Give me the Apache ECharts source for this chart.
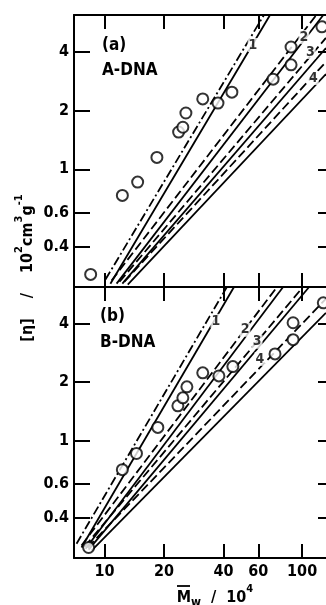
<!DOCTYPE html>
<html>
<head>
<meta charset="utf-8">
<script src="https://cdn.jsdelivr.net/npm/echarts@6/dist/echarts.min.js"></script>
<style>
  html, body { margin: 0; padding: 0; background: #fff; }
  #chart { width: 326px; height: 605px; }
</style>
</head>
<body>
<div id="chart"></div>
<script>
const xTicks = [10, 20, 40, 60, 100]
const yTicks = [0.4, 0.6, 1, 2, 4]

// (a) A-DNA measured points  [Mw/1e4, [eta]]
const aPoints = [
  [8.5, 0.29], [12.3, 0.735], [14.7, 0.86], [18.4, 1.15], [23.7, 1.55], [24.9, 1.64],
  [25.8, 1.94], [31.4, 2.29], [37.5, 2.18], [44.1, 2.48], [71.3, 2.89], [87.9, 4.22],
  [87.9, 3.42], [126, 5.35],
]
// (b) B-DNA measured points
const bPoints = [
  [8.3, 0.283], [12.3, 0.71], [14.5, 0.86], [18.6, 1.17], [23.5, 1.51], [24.9, 1.66],
  [26.1, 1.89], [31.4, 2.23], [37.9, 2.15], [44.6, 2.4], [72.9, 2.79], [90, 4.03],
  [90, 3.3], [128, 5.1],
]

// theory lines, two end points each (dashed = d, solid = s)
const aLine1d = [[10.1, 0.273], [64.1, 6.15]]
const aLine1s = [[10.7, 0.26], [68.8, 6.15]]
const aLine2d = [[10.85, 0.27], [118, 6.15]]
const aLine2s = [[11.5, 0.26], [128, 6.15]]
const aLine3d = [[11.9, 0.266], [132, 4.7]]
const aLine3s = [[12.3, 0.26], [132, 4.17]]
const aLine4d = [[12.6, 0.266], [132, 3.54]]
const aLine4s = [[13.1, 0.257], [132, 3.07]]

const bLine1d = [[7.21, 0.296], [41.6, 6.15]]
const bLine1s = [[7.64, 0.283], [45.2, 6.15]]
const bLine2d = [[7.64, 0.29], [74.6, 6.15]]
const bLine2s = [[8.01, 0.279], [80.1, 6.15]]
const bLine3d = [[7.92, 0.286], [101, 6.15]]
const bLine3s = [[8.3, 0.276], [108.5, 6.15]]
const bLine4d = [[8.2, 0.283], [132, 5.35]]
const bLine4s = [[8.59, 0.273], [132, 4.53]]

// curve numbers
const lineNames = ['1', '2', '3', '4']
const aNamePos = [[56.4, 4.32], [102, 4.75], [110, 3.98], [114, 2.93]]
const bNamePos = [[36.6, 4.12], [51.4, 3.71], [59.2, 3.22], [61.2, 2.63]]

const FONT = '"DejaVu Sans Condensed", "DejaVu Sans", sans-serif'
const DASH = [9, 4]
const DASHDOT = [9, 3, 2, 3]

const chart = echarts.init(document.getElementById('chart'))

const axisLine = { show: true, lineStyle: { color: '#000', width: 2 } }
const tickFont = { color: '#000', fontFamily: FONT, fontSize: 16, fontWeight: 'bold' }

const xAxis = (gridIndex, position, showLabel) => ({
  type: 'log',
  gridIndex,
  position,
  min: 7,
  max: 145,
  axisLine,
  splitLine: { show: false },
  minorTick: { show: false },
  axisTick: { inside: true, length: 14, lineStyle: { width: 2, color: '#000' }, customValues: xTicks },
  axisLabel: { show: showLabel, customValues: xTicks, margin: 6, ...tickFont },
})

const yAxis = (gridIndex, position, showLabel) => ({
  type: 'log',
  gridIndex,
  position,
  min: 0.25,
  max: 6.15,
  axisLine,
  splitLine: { show: false },
  minorTick: { show: false },
  axisTick: { inside: true, length: 16, lineStyle: { width: 2, color: '#000' }, customValues: yTicks },
  axisLabel: { show: showLabel, customValues: yTicks, margin: 5, ...tickFont },
})

const lineSeries = (data, dash, xi, yi) => ({
  type: 'line',
  xAxisIndex: xi,
  yAxisIndex: yi,
  data,
  symbol: 'none',
  silent: true,
  clip: true,
  lineStyle: { color: '#000', width: 1.8, type: dash },
})

const pointSeries = (data, xi, yi) => ({
  type: 'scatter',
  xAxisIndex: xi,
  yAxisIndex: yi,
  data,
  symbol: 'circle',
  symbolSize: 11,
  z: 5,
  itemStyle: { color: '#fff', borderColor: '#000', borderWidth: 2 },
})

const nameSeries = (pos, xi, yi) => ({
  type: 'scatter',
  xAxisIndex: xi,
  yAxisIndex: yi,
  data: pos.map((p, i) => [p[0], p[1], lineNames[i]]),
  symbolSize: 0,
  z: 6,
  label: {
    show: true,
    position: 'inside',
    formatter: (p) => p.data[2],
    color: '#000',
    fontFamily: FONT,
    fontSize: 14,
    fontWeight: 'bold',
    backgroundColor: '#fff',
    padding: [0, 1],
  },
})

const titleText = (text, x, y) => ({
  type: 'text',
  left: x,
  top: y,
  style: { text, fill: '#000', font: 'bold 17px ' + FONT },
})

chart.setOption({
  animation: false,
  backgroundColor: '#fff',
  grid: [
    { left: 74, top: 15, width: 260, height: 272, outerBoundsMode: 'none' },
    { left: 74, top: 287, width: 260, height: 271, outerBoundsMode: 'none' },
  ],
  xAxis: [
    xAxis(0, 'bottom', false),
    xAxis(0, 'top', false),
    xAxis(1, 'bottom', true),
    xAxis(1, 'top', false),
  ],
  yAxis: [
    yAxis(0, 'left', true),
    yAxis(0, 'right', false),
    yAxis(1, 'left', true),
    yAxis(1, 'right', false),
  ],
  series: [
    lineSeries(aLine1d, DASHDOT, 0, 0),
    lineSeries(aLine1s, 'solid', 0, 0),
    lineSeries(aLine2d, DASH, 0, 0),
    lineSeries(aLine2s, 'solid', 0, 0),
    lineSeries(aLine3d, DASH, 0, 0),
    lineSeries(aLine3s, 'solid', 0, 0),
    lineSeries(aLine4d, DASH, 0, 0),
    lineSeries(aLine4s, 'solid', 0, 0),
    pointSeries(aPoints, 0, 0),
    nameSeries(aNamePos, 0, 0),
    lineSeries(bLine1d, DASHDOT, 2, 2),
    lineSeries(bLine1s, 'solid', 2, 2),
    lineSeries(bLine2d, DASH, 2, 2),
    lineSeries(bLine2s, 'solid', 2, 2),
    lineSeries(bLine3d, DASH, 2, 2),
    lineSeries(bLine3s, 'solid', 2, 2),
    lineSeries(bLine4d, DASH, 2, 2),
    lineSeries(bLine4s, 'solid', 2, 2),
    pointSeries(bPoints, 2, 2),
    nameSeries(bNamePos, 2, 2),
  ],
  graphic: [
    titleText('(a)', 102, 37),
    titleText('A-DNA', 102, 62),
    titleText('(b)', 100, 308),
    titleText('B-DNA', 100, 334),
    {
      type: 'text',
      x: 25,
      y: 268,
      rotation: Math.PI / 2,
      style: {
        text: '{b|[η]}{b|    /    10}{s|2}{b|cm}{s|3}{b|g}{s|-1}',
        align: 'center',
        verticalAlign: 'middle',
        fill: '#000',
        rich: {
          b: { fontFamily: FONT, fontSize: 16, fontWeight: 'bold', lineHeight: 22, verticalAlign: 'bottom' },
          s: { fontFamily: FONT, fontSize: 11, fontWeight: 'bold', lineHeight: 22, verticalAlign: 'top' },
        },
      },
    },
    {
      type: 'text',
      x: 215,
      y: 595,
      style: {
        text: '{b|M}{w|w}{b|  /  10}{s|4}',
        align: 'center',
        verticalAlign: 'middle',
        fill: '#000',
        rich: {
          b: { fontFamily: FONT, fontSize: 16, fontWeight: 'bold', lineHeight: 22, verticalAlign: 'bottom' },
          w: { fontFamily: FONT, fontSize: 12, fontWeight: 'bold', lineHeight: 22, verticalAlign: 'bottom', padding: [0, 0, -3, 0] },
          s: { fontFamily: FONT, fontSize: 11, fontWeight: 'bold', lineHeight: 22, verticalAlign: 'top' },
        },
      },
    },
    // overbar on M
    {
      type: 'line',
      shape: { x1: 177, y1: 586, x2: 190, y2: 586 },
      style: { stroke: '#000', lineWidth: 1.8 },
    },
  ],
})
</script>
</body>
</html>
